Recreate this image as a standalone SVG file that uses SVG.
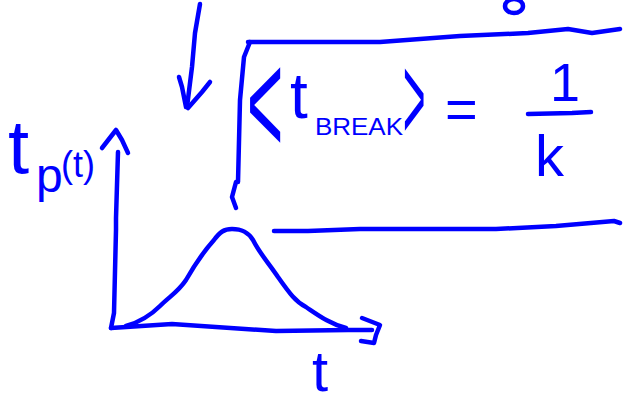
<svg xmlns="http://www.w3.org/2000/svg" width="625" height="403" viewBox="0 0 625 403">
<style>
.ink{fill:none;stroke:#0000ff;stroke-width:4.5;stroke-linecap:round;stroke-linejoin:round}
.lbl{fill:#0000ff;font-family:"Liberation Sans",Arial,sans-serif}
</style>
<rect width="625" height="403" fill="#ffffff"/>
<g id="down-arrow">
<path class="ink" d="M200,4 L195,33 L192,67 L187,107"/>
<path class="ink" d="M179,77 L182,87 L186,107"/>
<path class="ink" d="M210,82 L202,92 L188,108"/>
</g>
<g id="bracket">
<ellipse class="ink" cx="514" cy="6" rx="9" ry="7"/>
<path class="ink" d="M250,42 L244,57 L240,100 L238,182"/>
<path class="ink" d="M236,182 L232,197 L236,208"/>
<path class="ink" d="M248,42 L380,42 L420,39 L460,36 L528,33 L568,29 L592,33 L620,29"/>
<path class="ink" d="M274,231 L308,231 L360,229 L496,229 L556,226 L614,221 L620,223"/>
</g>
<g id="equation">
<text class="lbl" font-size="62" transform="translate(247,154) scale(1,2.4)">&lt;</text>
<text class="lbl" x="290" y="118" font-size="64">t</text>
<text class="lbl" x="315" y="135" font-size="23" textLength="88" lengthAdjust="spacingAndGlyphs">BREAK</text>
<text class="lbl" font-size="64" transform="translate(403,140) scale(0.6,1.9)">&gt;</text>
<text class="lbl" x="445" y="128" font-size="56">=</text>
<text class="lbl" x="565" y="101" font-size="54" text-anchor="middle">1</text>
<path class="ink" d="M528,114 L572,113 L591,112"/>
<text class="lbl" x="535" y="176" font-size="58">k</text>
</g>
<g id="axes">
<path class="ink" d="M118,152 L116,218 L116,230 L114,313 L111,328"/>
<path class="ink" d="M102,148 L116,130 L122,140 L128,153"/>
<path class="ink" d="M111,328 L172,324 L276,331 L348,330 L372,330"/>
<path class="ink" d="M362,318 L380,325 L376,335 L374,343 L361,341"/>
<text class="lbl" x="8" y="173" font-size="76">t</text>
<text class="lbl" x="36" y="192" font-size="48">p</text>
<text class="lbl" x="61" y="177" font-size="36">(t)</text>
<text class="lbl" x="312" y="391" font-size="58">t</text>
</g>
<g id="curve">
<path class="ink" d="M126,326 C140,322 150,316 160,306 C170,296 178,292 186,280 C194,266 205,250 214,240 C220,232 224,229 232,229 C242,229 248,232 253,240 C260,254 268,262 278,277 C290,294 296,302 306,307 C318,315 330,324 346,328"/>
</g>
</svg>
